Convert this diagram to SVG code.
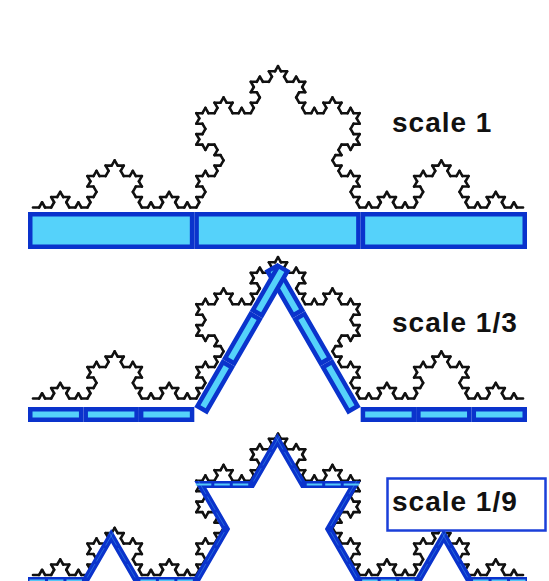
<svg xmlns="http://www.w3.org/2000/svg" xmlns:xlink="http://www.w3.org/1999/xlink" width="549" height="581" viewBox="0 0 549 581">
<style>
.k{fill:none;stroke:#111;stroke-width:2.6;stroke-linecap:round;vector-effect:non-scaling-stroke}
.bar{fill:#55d2fa;stroke:#0a33cc;stroke-width:4.5}
.blue9{fill:none;stroke:#0a33cc;stroke-width:7;stroke-linejoin:miter;stroke-miterlimit:10}
.lt{stroke:#55c8f8;stroke-width:2;stroke-dasharray:15.48 3;stroke-dashoffset:-1.5}
.lt1{stroke:#55c8f8;stroke-width:1;opacity:0.35;stroke-dasharray:15.48 3;stroke-dashoffset:-1.5}
.lbl{font-family:"Liberation Sans",Arial,sans-serif;font-weight:bold;font-size:28px;letter-spacing:1px;fill:#111}
</style>
<defs>
<path id="k0" class="k" d="M0,0H1"/>
<g id="k1"><use href="#k0" transform="scale(0.333333333)"/><use href="#k0" transform="translate(0.333333333,0) rotate(-60) scale(0.333333333)"/><use href="#k0" transform="translate(0.5,-0.288675135) rotate(60) scale(0.333333333)"/><use href="#k0" transform="translate(0.666666667,0) scale(0.333333333)"/></g>
<g id="k2"><use href="#k1" transform="scale(0.333333333)"/><use href="#k1" transform="translate(0.333333333,0) rotate(-60) scale(0.333333333)"/><use href="#k1" transform="translate(0.5,-0.288675135) rotate(60) scale(0.333333333)"/><use href="#k1" transform="translate(0.666666667,0) scale(0.333333333)"/></g>
<g id="k3"><use href="#k2" transform="scale(0.333333333)"/><use href="#k2" transform="translate(0.333333333,0) rotate(-60) scale(0.333333333)"/><use href="#k2" transform="translate(0.5,-0.288675135) rotate(60) scale(0.333333333)"/><use href="#k2" transform="translate(0.666666667,0) scale(0.333333333)"/></g>
<g id="k4"><use href="#k3" transform="scale(0.333333333)"/><use href="#k3" transform="translate(0.333333333,0) rotate(-60) scale(0.333333333)"/><use href="#k3" transform="translate(0.5,-0.288675135) rotate(60) scale(0.333333333)"/><use href="#k3" transform="translate(0.666666667,0) scale(0.333333333)"/></g>
<g id="bar3"><rect class="bar" x="2.25" y="2.25" width="50.94" height="10.5"/><rect class="bar" x="57.69" y="2.25" width="50.94" height="10.5"/><rect class="bar" x="113.13" y="2.25" width="50.94" height="10.5"/></g>
</defs>
<rect width="549" height="581" fill="#fff"/>

<g id="scale1">
<use href="#k4" transform="translate(33,207.5) scale(490)"/>
<g id="bar1" transform="translate(28,212)">
<rect class="bar" x="2.25" y="2.25" width="161.83" height="32.5"/>
<rect class="bar" x="168.58" y="2.25" width="161.83" height="32.5"/>
<rect class="bar" x="334.92" y="2.25" width="161.83" height="32.5"/>
</g>
<text class="lbl" x="392" y="132">scale 1</text>
</g>

<g id="scale13">
<use href="#k4" transform="translate(33,398.5) scale(490)"/>
<use href="#bar3" transform="translate(28,407)"/>
<use href="#bar3" transform="translate(277.5,262.95) rotate(60)"/>
<use href="#bar3" transform="translate(194.33,407) rotate(-60)"/>
<use href="#bar3" transform="translate(360.67,407)"/>
<text class="lbl" x="392" y="332">scale 1/3</text>
</g>

<g id="scale19" transform="translate(0,-1)">
<use href="#k4" transform="translate(33,576) scale(490)"/>
<polyline class="blue9" points="28,581.5 85.46,581.5 111.17,536.98 136.87,581.5 196.35,581.5 226.10,529.98 200.39,485.47 251.80,485.47 277.5,440.95 303.20,485.47 354.61,485.47 328.90,529.98 358.65,581.5 418.13,581.5 443.83,536.98 469.54,581.5 527,581.5"/>
<g id="lights">
<line class="lt" x1="28" y1="581.5" x2="83.44" y2="581.5"/>
<line class="lt1" x1="86.47" y1="579.75" x2="114.2" y2="531.73"/>
<line class="lt1" x1="108.14" y1="531.73" x2="135.86" y2="579.75"/>
<line class="lt" x1="138.89" y1="581.5" x2="194.33" y2="581.5"/>
<line class="lt1" x1="197.36" y1="579.75" x2="225.09" y2="531.73"/>
<line class="lt1" x1="225.09" y1="528.23" x2="197.36" y2="480.22"/>
<line class="lt" x1="194.33" y1="485.47" x2="249.78" y2="485.47"/>
<line class="lt1" x1="252.81" y1="483.72" x2="280.53" y2="435.7"/>
<line class="lt1" x1="274.47" y1="435.7" x2="302.19" y2="483.72"/>
<line class="lt" x1="305.22" y1="485.47" x2="360.67" y2="485.47"/>
<line class="lt1" x1="357.64" y1="480.22" x2="329.91" y2="528.23"/>
<line class="lt1" x1="329.91" y1="531.73" x2="357.64" y2="579.75"/>
<line class="lt" x1="360.67" y1="581.5" x2="416.11" y2="581.5"/>
<line class="lt1" x1="419.14" y1="579.75" x2="446.86" y2="531.73"/>
<line class="lt1" x1="440.8" y1="531.73" x2="468.53" y2="579.75"/>
<line class="lt" x1="471.56" y1="581.5" x2="527" y2="581.5"/>
</g>
</g>
<g id="label19">
<rect x="387.5" y="478.5" width="158" height="52" fill="#fff" stroke="#1a3fd9" stroke-width="2.5"/>
<text class="lbl" x="392" y="511">scale 1/9</text>
</g>
</svg>
